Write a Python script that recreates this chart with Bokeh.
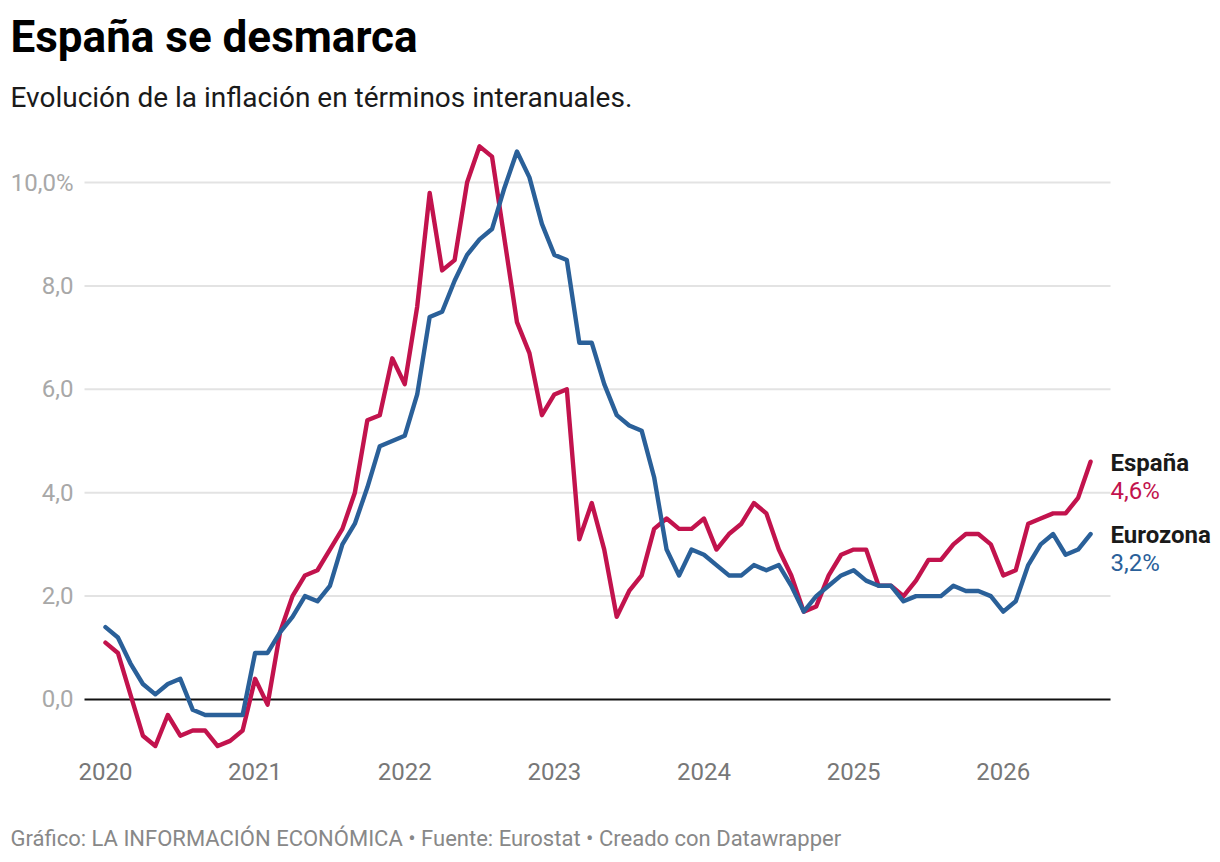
from bokeh.plotting import figure
from bokeh.models import ColumnDataSource, FixedTicker, Label
from bokeh.embed import file_html
from bokeh.resources import INLINE

TITLE = "España se desmarca"
SUBTITLE = "Evolución de la inflación en términos interanuales."
FOOTER = "Gráfico: LA INFORMACIÓN ECONÓMICA • Fuente: Eurostat • Creado con Datawrapper"

year_labels = ["2020", "2021", "2022", "2023", "2024", "2025", "2026"]
y_ticks = [0, 2, 4, 6, 8, 10]
y_tick_labels = ["0,0", "2,0", "4,0", "6,0", "8,0", "10,0%"]

espana = [
    1.1, 0.9, 0.1, -0.7, -0.9, -0.3, -0.7, -0.6, -0.6, -0.9, -0.8, -0.6,
    0.4, -0.1, 1.3, 2.0, 2.4, 2.5, 2.9, 3.3, 4.0, 5.4, 5.5, 6.6,
    6.1, 7.6, 9.8, 8.3, 8.5, 10.0, 10.7, 10.5, 8.9, 7.3, 6.7, 5.5,
    5.9, 6.0, 3.1, 3.8, 2.9, 1.6, 2.1, 2.4, 3.3, 3.5, 3.3, 3.3,
    3.5, 2.9, 3.2, 3.4, 3.8, 3.6, 2.9, 2.4, 1.7, 1.8, 2.4, 2.8,
    2.9, 2.9, 2.2, 2.2, 2.0, 2.3, 2.7, 2.7, 3.0, 3.2, 3.2, 3.0,
    2.4, 2.5, 3.4, 3.5, 3.6, 3.6, 3.9, 4.6,
]
eurozona = [
    1.4, 1.2, 0.7, 0.3, 0.1, 0.3, 0.4, -0.2, -0.3, -0.3, -0.3, -0.3,
    0.9, 0.9, 1.3, 1.6, 2.0, 1.9, 2.2, 3.0, 3.4, 4.1, 4.9, 5.0,
    5.1, 5.9, 7.4, 7.5, 8.1, 8.6, 8.9, 9.1, 9.9, 10.6, 10.1, 9.2,
    8.6, 8.5, 6.9, 6.9, 6.1, 5.5, 5.3, 5.2, 4.3, 2.9, 2.4, 2.9,
    2.8, 2.6, 2.4, 2.4, 2.6, 2.5, 2.6, 2.2, 1.7, 2.0, 2.2, 2.4,
    2.5, 2.3, 2.2, 2.2, 1.9, 2.0, 2.0, 2.0, 2.2, 2.1, 2.1, 2.0,
    1.7, 1.9, 2.6, 3.0, 3.2, 2.8, 2.9, 3.2,
]
months = list(range(len(espana)))

RED = "#c2134d"
BLUE = "#2a6099"
FONT = "Roboto"
W, H = 1220, 862

# The frame fills the whole canvas so that texts outside the plotting area are not clipped;
# the axes and rules stop at the limits of the plotting area.
X_MIN, X_MAX = -1.68, 80.6
Y_MIN = -1.083

p = figure(
    width=W, height=H, output_backend="svg", toolbar_location=None,
    x_range=(-8.417, 89.42), y_range=(-3.153, 13.521),
    min_border=0, background_fill_color="white", border_fill_color="white",
)
p.outline_line_color = None
p.xgrid.visible = False
p.ygrid.visible = False

p.xaxis.ticker = FixedTicker(ticks=[12 * i for i in range(len(year_labels))])
p.xaxis.major_label_overrides = {12 * i: s for i, s in enumerate(year_labels)}
p.xaxis.fixed_location = Y_MIN
p.yaxis.ticker = FixedTicker(ticks=y_ticks)
p.yaxis.major_label_overrides = dict(zip(y_ticks, y_tick_labels))
p.yaxis.fixed_location = X_MIN
for ax, col, standoff in ((p.xaxis, "#777777", 2), (p.yaxis, "#a8a8a8", 5)):
    ax.axis_line_color = None
    ax.major_tick_line_color = None
    ax.minor_tick_line_color = None
    ax.major_label_text_font = FONT
    ax.major_label_text_font_size = "24px"
    ax.major_label_text_color = col
    ax.major_label_standoff = standoff

grid_ticks = [t for t in y_ticks if t != 0]
p.segment(x0=[X_MIN] * len(grid_ticks), x1=[X_MAX] * len(grid_ticks), y0=grid_ticks, y1=grid_ticks,
          line_color="#e3e3e3", line_width=2)
p.segment(x0=[X_MIN], x1=[X_MAX], y0=[0], y1=[0], line_color="#111111", line_width=2)

src = ColumnDataSource(dict(m=months, es=espana, eu=eurozona))
p.line("m", "es", source=src, line_color=RED, line_width=4.4, line_join="round", line_cap="round")
p.line("m", "eu", source=src, line_color=BLUE, line_width=4.4, line_join="round", line_cap="round")


def text(x, y, s, size, color, weight="normal"):
    p.add_layout(Label(
        x=x, y=H - y, x_units="screen", y_units="screen", text=s,
        text_font=FONT, text_font_size=size, text_color=color, text_font_style=weight,
        text_baseline="middle", text_align="left",
    ))


text(10, 36, TITLE, "44px", "#000000", "bold")
text(10, 97, SUBTITLE, "28px", "#1a1a1a")
text(1110, 462, "España", "24px", "#1a1a1a", "bold")
text(1110, 490, f"{espana[-1]:.1f}%".replace(".", ","), "24px", RED)
text(1110, 534, "Eurozona", "24px", "#1a1a1a", "bold")
text(1110, 562, f"{eurozona[-1]:.1f}%".replace(".", ","), "24px", BLUE)
text(10, 838, FOOTER, "22px", "#888888")

open("out.html", "w").write(file_html(p, INLINE))
